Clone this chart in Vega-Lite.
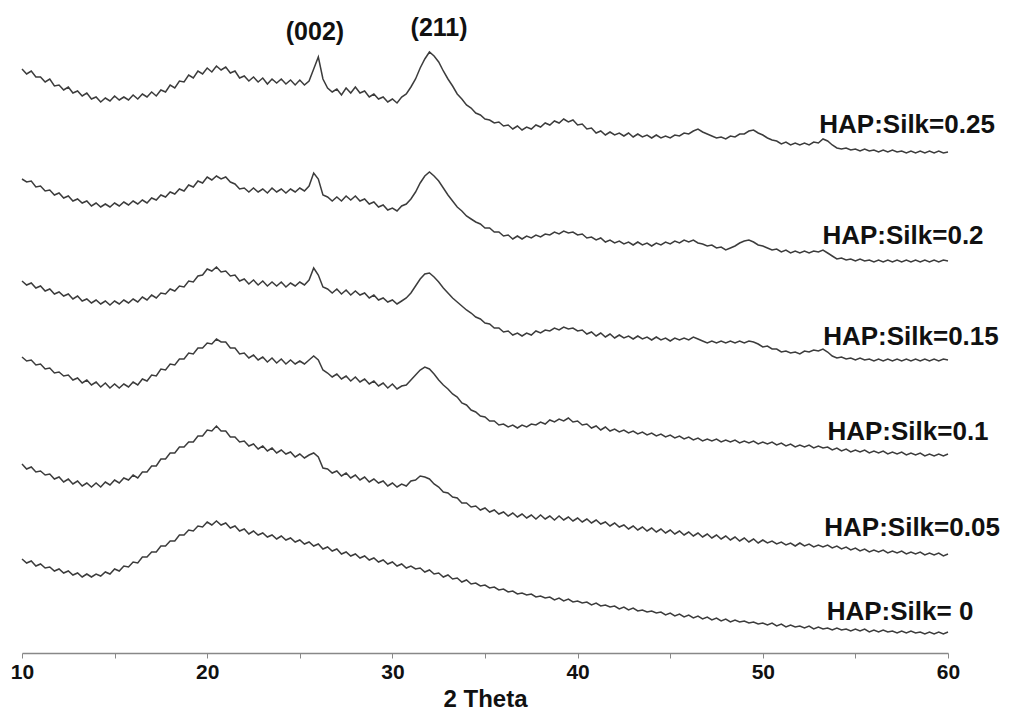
{
"$schema": "https://vega.github.io/schema/vega-lite/v6.json",
"width": 926, "height": 653,
"autosize": {"type": "none"},
"padding": {"left": 22, "top": 0, "right": 63, "bottom": 62},
"background": "white",
"config": {"view": {"stroke": null}, "font": "Liberation Sans"},
"datasets": {
"a": [{"x":10,"y":584},{"x":10.25,"y":579},{"x":10.5,"y":582},{"x":10.75,"y":576},{"x":11,"y":576},{"x":11.25,"y":571},{"x":11.5,"y":574},{"x":11.75,"y":567},{"x":12,"y":568},{"x":12.25,"y":563},{"x":12.5,"y":566},{"x":12.75,"y":560},{"x":13,"y":562},{"x":13.25,"y":557},{"x":13.5,"y":560},{"x":13.75,"y":554},{"x":14,"y":556},{"x":14.25,"y":551},{"x":14.5,"y":555},{"x":14.75,"y":552},{"x":15,"y":557},{"x":15.25,"y":553},{"x":15.5,"y":556},{"x":15.75,"y":553},{"x":16,"y":558},{"x":16.25,"y":554},{"x":16.5,"y":559},{"x":16.75,"y":556},{"x":17,"y":561},{"x":17.25,"y":557},{"x":17.5,"y":563},{"x":17.75,"y":561},{"x":18,"y":568},{"x":18.25,"y":565},{"x":18.5,"y":572},{"x":18.75,"y":571},{"x":19,"y":578},{"x":19.25,"y":575},{"x":19.5,"y":582},{"x":19.75,"y":579},{"x":20,"y":585},{"x":20.25,"y":581},{"x":20.5,"y":587},{"x":20.75,"y":583},{"x":21,"y":586},{"x":21.25,"y":580},{"x":21.5,"y":582},{"x":21.75,"y":575},{"x":22,"y":577},{"x":22.25,"y":572},{"x":22.5,"y":576},{"x":22.75,"y":571},{"x":23,"y":575},{"x":23.25,"y":569},{"x":23.5,"y":574},{"x":23.75,"y":570},{"x":24,"y":574},{"x":24.25,"y":569},{"x":24.5,"y":573},{"x":24.75,"y":568},{"x":25,"y":573},{"x":25.25,"y":568},{"x":25.5,"y":572},{"x":25.75,"y":584},{"x":26,"y":596},{"x":26.25,"y":574},{"x":26.5,"y":565},{"x":26.75,"y":561},{"x":27,"y":564},{"x":27.25,"y":558},{"x":27.5,"y":565},{"x":27.75,"y":560},{"x":28,"y":566},{"x":28.25,"y":560},{"x":28.5,"y":562},{"x":28.75,"y":556},{"x":29,"y":559},{"x":29.25,"y":554},{"x":29.5,"y":556},{"x":29.75,"y":551},{"x":30,"y":554},{"x":30.25,"y":550},{"x":30.5,"y":556},{"x":30.75,"y":559},{"x":31,"y":566},{"x":31.25,"y":574},{"x":31.5,"y":585},{"x":31.75,"y":594},{"x":32,"y":601},{"x":32.25,"y":597},{"x":32.5,"y":591},{"x":32.75,"y":582},{"x":33,"y":574},{"x":33.25,"y":567},{"x":33.5,"y":559},{"x":33.75,"y":554},{"x":34,"y":548},{"x":34.25,"y":545},{"x":34.5,"y":540},{"x":34.75,"y":538},{"x":35,"y":534},{"x":35.25,"y":533},{"x":35.5,"y":530},{"x":35.75,"y":531},{"x":36,"y":527},{"x":36.25,"y":528},{"x":36.5,"y":524},{"x":36.75,"y":527},{"x":37,"y":523},{"x":37.25,"y":526},{"x":37.5,"y":524},{"x":37.75,"y":528},{"x":38,"y":526},{"x":38.25,"y":530},{"x":38.5,"y":528},{"x":38.75,"y":532},{"x":39,"y":530},{"x":39.25,"y":534},{"x":39.5,"y":531},{"x":39.75,"y":533},{"x":40,"y":528},{"x":40.25,"y":529},{"x":40.5,"y":524},{"x":40.75,"y":525},{"x":41,"y":520},{"x":41.25,"y":522},{"x":41.5,"y":518},{"x":41.75,"y":521},{"x":42,"y":518},{"x":42.25,"y":520},{"x":42.5,"y":517},{"x":42.75,"y":520},{"x":43,"y":516},{"x":43.25,"y":519},{"x":43.5,"y":516},{"x":43.75,"y":518},{"x":44,"y":515},{"x":44.25,"y":518},{"x":44.5,"y":515},{"x":44.75,"y":517},{"x":45,"y":515},{"x":45.25,"y":518},{"x":45.5,"y":517},{"x":45.75,"y":520},{"x":46,"y":519},{"x":46.25,"y":522},{"x":46.5,"y":524},{"x":46.75,"y":521},{"x":47,"y":519},{"x":47.25,"y":517},{"x":47.5,"y":515},{"x":47.75,"y":516},{"x":48,"y":514},{"x":48.25,"y":517},{"x":48.5,"y":516},{"x":48.75,"y":519},{"x":49,"y":519},{"x":49.25,"y":522},{"x":49.5,"y":523},{"x":49.75,"y":520},{"x":50,"y":518},{"x":50.25,"y":515},{"x":50.5,"y":513},{"x":50.75,"y":512},{"x":51,"y":509},{"x":51.25,"y":511},{"x":51.5,"y":508},{"x":51.75,"y":510},{"x":52,"y":508},{"x":52.25,"y":510},{"x":52.5,"y":508},{"x":52.75,"y":511},{"x":53,"y":510},{"x":53.25,"y":514},{"x":53.5,"y":512},{"x":53.75,"y":508},{"x":54,"y":505},{"x":54.25,"y":504},{"x":54.5,"y":505},{"x":54.75,"y":503},{"x":55,"y":504},{"x":55.25,"y":502},{"x":55.5,"y":504},{"x":55.75,"y":502},{"x":56,"y":503},{"x":56.25,"y":501},{"x":56.5,"y":503},{"x":56.75,"y":501},{"x":57,"y":503},{"x":57.25,"y":501},{"x":57.5,"y":502},{"x":57.75,"y":500},{"x":58,"y":502},{"x":58.25,"y":500},{"x":58.5,"y":502},{"x":58.75,"y":500},{"x":59,"y":502},{"x":59.25,"y":500},{"x":59.5,"y":502},{"x":59.75,"y":500},{"x":60,"y":501}],
"b": [{"x":10,"y":474},{"x":10.25,"y":471},{"x":10.5,"y":472},{"x":10.75,"y":466},{"x":11,"y":467},{"x":11.25,"y":462},{"x":11.5,"y":463},{"x":11.75,"y":458},{"x":12,"y":460},{"x":12.25,"y":455},{"x":12.5,"y":457},{"x":12.75,"y":452},{"x":13,"y":454},{"x":13.25,"y":450},{"x":13.5,"y":452},{"x":13.75,"y":447},{"x":14,"y":450},{"x":14.25,"y":446},{"x":14.5,"y":449},{"x":14.75,"y":446},{"x":15,"y":450},{"x":15.25,"y":447},{"x":15.5,"y":451},{"x":15.75,"y":448},{"x":16,"y":452},{"x":16.25,"y":449},{"x":16.5,"y":453},{"x":16.75,"y":450},{"x":17,"y":455},{"x":17.25,"y":453},{"x":17.5,"y":458},{"x":17.75,"y":456},{"x":18,"y":461},{"x":18.25,"y":459},{"x":18.5,"y":464},{"x":18.75,"y":462},{"x":19,"y":468},{"x":19.25,"y":466},{"x":19.5,"y":472},{"x":19.75,"y":470},{"x":20,"y":476},{"x":20.25,"y":473},{"x":20.5,"y":477},{"x":20.75,"y":474},{"x":21,"y":476},{"x":21.25,"y":471},{"x":21.5,"y":469},{"x":21.75,"y":464},{"x":22,"y":465},{"x":22.25,"y":461},{"x":22.5,"y":465},{"x":22.75,"y":461},{"x":23,"y":464},{"x":23.25,"y":460},{"x":23.5,"y":465},{"x":23.75,"y":461},{"x":24,"y":464},{"x":24.25,"y":460},{"x":24.5,"y":464},{"x":24.75,"y":461},{"x":25,"y":465},{"x":25.25,"y":462},{"x":25.5,"y":467},{"x":25.75,"y":480},{"x":26,"y":474},{"x":26.25,"y":458},{"x":26.5,"y":456},{"x":26.75,"y":452},{"x":27,"y":456},{"x":27.25,"y":452},{"x":27.5,"y":457},{"x":27.75,"y":453},{"x":28,"y":457},{"x":28.25,"y":452},{"x":28.5,"y":454},{"x":28.75,"y":449},{"x":29,"y":451},{"x":29.25,"y":446},{"x":29.5,"y":448},{"x":29.75,"y":443},{"x":30,"y":445},{"x":30.25,"y":442},{"x":30.5,"y":447},{"x":30.75,"y":449},{"x":31,"y":454},{"x":31.25,"y":461},{"x":31.5,"y":470},{"x":31.75,"y":477},{"x":32,"y":481},{"x":32.25,"y":477},{"x":32.5,"y":472},{"x":32.75,"y":465},{"x":33,"y":458},{"x":33.25,"y":452},{"x":33.5,"y":446},{"x":33.75,"y":442},{"x":34,"y":437},{"x":34.25,"y":434},{"x":34.5,"y":431},{"x":34.75,"y":429},{"x":35,"y":425},{"x":35.25,"y":425},{"x":35.5,"y":421},{"x":35.75,"y":421},{"x":36,"y":417},{"x":36.25,"y":418},{"x":36.5,"y":414},{"x":36.75,"y":417},{"x":37,"y":414},{"x":37.25,"y":417},{"x":37.5,"y":415},{"x":37.75,"y":418},{"x":38,"y":416},{"x":38.25,"y":419},{"x":38.5,"y":418},{"x":38.75,"y":421},{"x":39,"y":419},{"x":39.25,"y":422},{"x":39.5,"y":420},{"x":39.75,"y":421},{"x":40,"y":418},{"x":40.25,"y":419},{"x":40.5,"y":415},{"x":40.75,"y":416},{"x":41,"y":413},{"x":41.25,"y":415},{"x":41.5,"y":411},{"x":41.75,"y":413},{"x":42,"y":410},{"x":42.25,"y":412},{"x":42.5,"y":409},{"x":42.75,"y":411},{"x":43,"y":408},{"x":43.25,"y":411},{"x":43.5,"y":408},{"x":43.75,"y":410},{"x":44,"y":407},{"x":44.25,"y":410},{"x":44.5,"y":408},{"x":44.75,"y":411},{"x":45,"y":409},{"x":45.25,"y":412},{"x":45.5,"y":410},{"x":45.75,"y":413},{"x":46,"y":411},{"x":46.25,"y":413},{"x":46.5,"y":410},{"x":46.75,"y":409},{"x":47,"y":407},{"x":47.25,"y":408},{"x":47.5,"y":405},{"x":47.75,"y":406},{"x":48,"y":403},{"x":48.25,"y":405},{"x":48.5,"y":407},{"x":48.75,"y":410},{"x":49,"y":412},{"x":49.25,"y":413},{"x":49.5,"y":411},{"x":49.75,"y":408},{"x":50,"y":407},{"x":50.25,"y":405},{"x":50.5,"y":403},{"x":50.75,"y":404},{"x":51,"y":401},{"x":51.25,"y":403},{"x":51.5,"y":400},{"x":51.75,"y":402},{"x":52,"y":400},{"x":52.25,"y":402},{"x":52.5,"y":400},{"x":52.75,"y":402},{"x":53,"y":401},{"x":53.25,"y":403},{"x":53.5,"y":400},{"x":53.75,"y":397},{"x":54,"y":394},{"x":54.25,"y":395},{"x":54.5,"y":393},{"x":54.75,"y":394},{"x":55,"y":392},{"x":55.25,"y":394},{"x":55.5,"y":392},{"x":55.75,"y":393},{"x":56,"y":391},{"x":56.25,"y":393},{"x":56.5,"y":391},{"x":56.75,"y":393},{"x":57,"y":391},{"x":57.25,"y":393},{"x":57.5,"y":391},{"x":57.75,"y":393},{"x":58,"y":391},{"x":58.25,"y":393},{"x":58.5,"y":391},{"x":58.75,"y":393},{"x":59,"y":391},{"x":59.25,"y":393},{"x":59.5,"y":391},{"x":59.75,"y":393},{"x":60,"y":392}],
"c": [{"x":10,"y":372},{"x":10.25,"y":368},{"x":10.5,"y":370},{"x":10.75,"y":365},{"x":11,"y":367},{"x":11.25,"y":362},{"x":11.5,"y":364},{"x":11.75,"y":359},{"x":12,"y":361},{"x":12.25,"y":357},{"x":12.5,"y":359},{"x":12.75,"y":354},{"x":13,"y":357},{"x":13.25,"y":352},{"x":13.5,"y":354},{"x":13.75,"y":350},{"x":14,"y":353},{"x":14.25,"y":349},{"x":14.5,"y":352},{"x":14.75,"y":348},{"x":15,"y":352},{"x":15.25,"y":349},{"x":15.5,"y":353},{"x":15.75,"y":350},{"x":16,"y":354},{"x":16.25,"y":351},{"x":16.5,"y":356},{"x":16.75,"y":353},{"x":17,"y":358},{"x":17.25,"y":355},{"x":17.5,"y":360},{"x":17.75,"y":359},{"x":18,"y":364},{"x":18.25,"y":362},{"x":18.5,"y":367},{"x":18.75,"y":366},{"x":19,"y":372},{"x":19.25,"y":371},{"x":19.5,"y":377},{"x":19.75,"y":378},{"x":20,"y":384},{"x":20.25,"y":382},{"x":20.5,"y":386},{"x":20.75,"y":381},{"x":21,"y":382},{"x":21.25,"y":377},{"x":21.5,"y":378},{"x":21.75,"y":372},{"x":22,"y":374},{"x":22.25,"y":369},{"x":22.5,"y":373},{"x":22.75,"y":368},{"x":23,"y":372},{"x":23.25,"y":367},{"x":23.5,"y":371},{"x":23.75,"y":367},{"x":24,"y":371},{"x":24.25,"y":366},{"x":24.5,"y":370},{"x":24.75,"y":367},{"x":25,"y":371},{"x":25.25,"y":368},{"x":25.5,"y":373},{"x":25.75,"y":385},{"x":26,"y":378},{"x":26.25,"y":366},{"x":26.5,"y":364},{"x":26.75,"y":360},{"x":27,"y":364},{"x":27.25,"y":359},{"x":27.5,"y":363},{"x":27.75,"y":358},{"x":28,"y":362},{"x":28.25,"y":358},{"x":28.5,"y":360},{"x":28.75,"y":355},{"x":29,"y":358},{"x":29.25,"y":353},{"x":29.5,"y":355},{"x":29.75,"y":351},{"x":30,"y":353},{"x":30.25,"y":349},{"x":30.5,"y":352},{"x":30.75,"y":355},{"x":31,"y":360},{"x":31.25,"y":367},{"x":31.5,"y":374},{"x":31.75,"y":379},{"x":32,"y":380},{"x":32.25,"y":376},{"x":32.5,"y":371},{"x":32.75,"y":365},{"x":33,"y":360},{"x":33.25,"y":355},{"x":33.5,"y":351},{"x":33.75,"y":347},{"x":34,"y":343},{"x":34.25,"y":340},{"x":34.5,"y":336},{"x":34.75,"y":334},{"x":35,"y":330},{"x":35.25,"y":329},{"x":35.5,"y":325},{"x":35.75,"y":325},{"x":36,"y":321},{"x":36.25,"y":322},{"x":36.5,"y":318},{"x":36.75,"y":320},{"x":37,"y":317},{"x":37.25,"y":320},{"x":37.5,"y":318},{"x":37.75,"y":322},{"x":38,"y":320},{"x":38.25,"y":323},{"x":38.5,"y":322},{"x":38.75,"y":325},{"x":39,"y":323},{"x":39.25,"y":326},{"x":39.5,"y":324},{"x":39.75,"y":325},{"x":40,"y":322},{"x":40.25,"y":323},{"x":40.5,"y":319},{"x":40.75,"y":321},{"x":41,"y":317},{"x":41.25,"y":320},{"x":41.5,"y":316},{"x":41.75,"y":319},{"x":42,"y":315},{"x":42.25,"y":318},{"x":42.5,"y":315},{"x":42.75,"y":317},{"x":43,"y":314},{"x":43.25,"y":317},{"x":43.5,"y":314},{"x":43.75,"y":316},{"x":44,"y":313},{"x":44.25,"y":316},{"x":44.5,"y":313},{"x":44.75,"y":315},{"x":45,"y":312},{"x":45.25,"y":315},{"x":45.5,"y":313},{"x":45.75,"y":315},{"x":46,"y":313},{"x":46.25,"y":316},{"x":46.5,"y":314},{"x":46.75,"y":312},{"x":47,"y":310},{"x":47.25,"y":312},{"x":47.5,"y":310},{"x":47.75,"y":312},{"x":48,"y":310},{"x":48.25,"y":312},{"x":48.5,"y":310},{"x":48.75,"y":312},{"x":49,"y":310},{"x":49.25,"y":312},{"x":49.5,"y":311},{"x":49.75,"y":309},{"x":50,"y":306},{"x":50.25,"y":307},{"x":50.5,"y":304},{"x":50.75,"y":304},{"x":51,"y":301},{"x":51.25,"y":302},{"x":51.5,"y":300},{"x":51.75,"y":301},{"x":52,"y":299},{"x":52.25,"y":302},{"x":52.5,"y":301},{"x":52.75,"y":303},{"x":53,"y":302},{"x":53.25,"y":304},{"x":53.5,"y":301},{"x":53.75,"y":297},{"x":54,"y":295},{"x":54.25,"y":296},{"x":54.5,"y":294},{"x":54.75,"y":295},{"x":55,"y":293},{"x":55.25,"y":295},{"x":55.5,"y":293},{"x":55.75,"y":294},{"x":56,"y":292},{"x":56.25,"y":294},{"x":56.5,"y":292},{"x":56.75,"y":294},{"x":57,"y":292},{"x":57.25,"y":294},{"x":57.5,"y":292},{"x":57.75,"y":294},{"x":58,"y":292},{"x":58.25,"y":294},{"x":58.5,"y":292},{"x":58.75,"y":294},{"x":59,"y":292},{"x":59.25,"y":294},{"x":59.5,"y":292},{"x":59.75,"y":294},{"x":60,"y":293}],
"d": [{"x":10,"y":296},{"x":10.25,"y":292},{"x":10.5,"y":293},{"x":10.75,"y":288},{"x":11,"y":289},{"x":11.25,"y":284},{"x":11.5,"y":285},{"x":11.75,"y":280},{"x":12,"y":281},{"x":12.25,"y":277},{"x":12.5,"y":278},{"x":12.75,"y":273},{"x":13,"y":275},{"x":13.25,"y":270},{"x":13.5,"y":273},{"x":13.75,"y":268},{"x":14,"y":271},{"x":14.25,"y":266},{"x":14.5,"y":270},{"x":14.75,"y":265},{"x":15,"y":269},{"x":15.25,"y":265},{"x":15.5,"y":269},{"x":15.75,"y":266},{"x":16,"y":271},{"x":16.25,"y":268},{"x":16.5,"y":274},{"x":16.75,"y":272},{"x":17,"y":278},{"x":17.25,"y":277},{"x":17.5,"y":284},{"x":17.75,"y":283},{"x":18,"y":289},{"x":18.25,"y":288},{"x":18.5,"y":294},{"x":18.75,"y":294},{"x":19,"y":300},{"x":19.25,"y":299},{"x":19.5,"y":305},{"x":19.75,"y":305},{"x":20,"y":310},{"x":20.25,"y":309},{"x":20.5,"y":314},{"x":20.75,"y":311},{"x":21,"y":311},{"x":21.25,"y":305},{"x":21.5,"y":305},{"x":21.75,"y":299},{"x":22,"y":300},{"x":22.25,"y":295},{"x":22.5,"y":298},{"x":22.75,"y":293},{"x":23,"y":296},{"x":23.25,"y":291},{"x":23.5,"y":295},{"x":23.75,"y":290},{"x":24,"y":294},{"x":24.25,"y":289},{"x":24.5,"y":293},{"x":24.75,"y":289},{"x":25,"y":292},{"x":25.25,"y":289},{"x":25.5,"y":293},{"x":25.75,"y":297},{"x":26,"y":293},{"x":26.25,"y":283},{"x":26.5,"y":280},{"x":26.75,"y":276},{"x":27,"y":279},{"x":27.25,"y":274},{"x":27.5,"y":277},{"x":27.75,"y":272},{"x":28,"y":276},{"x":28.25,"y":271},{"x":28.5,"y":274},{"x":28.75,"y":269},{"x":29,"y":272},{"x":29.25,"y":267},{"x":29.5,"y":270},{"x":29.75,"y":265},{"x":30,"y":269},{"x":30.25,"y":264},{"x":30.5,"y":267},{"x":30.75,"y":268},{"x":31,"y":273},{"x":31.25,"y":278},{"x":31.5,"y":283},{"x":31.75,"y":286},{"x":32,"y":284},{"x":32.25,"y":279},{"x":32.5,"y":273},{"x":32.75,"y":268},{"x":33,"y":264},{"x":33.25,"y":259},{"x":33.5,"y":256},{"x":33.75,"y":250},{"x":34,"y":248},{"x":34.25,"y":243},{"x":34.5,"y":241},{"x":34.75,"y":237},{"x":35,"y":236},{"x":35.25,"y":232},{"x":35.5,"y":232},{"x":35.75,"y":228},{"x":36,"y":229},{"x":36.25,"y":226},{"x":36.5,"y":228},{"x":36.75,"y":225},{"x":37,"y":228},{"x":37.25,"y":226},{"x":37.5,"y":229},{"x":37.75,"y":228},{"x":38,"y":231},{"x":38.25,"y":229},{"x":38.5,"y":233},{"x":38.75,"y":231},{"x":39,"y":234},{"x":39.25,"y":232},{"x":39.5,"y":235},{"x":39.75,"y":231},{"x":40,"y":232},{"x":40.25,"y":228},{"x":40.5,"y":229},{"x":40.75,"y":225},{"x":41,"y":227},{"x":41.25,"y":223},{"x":41.5,"y":226},{"x":41.75,"y":222},{"x":42,"y":224},{"x":42.25,"y":221},{"x":42.5,"y":223},{"x":42.75,"y":220},{"x":43,"y":222},{"x":43.25,"y":219},{"x":43.5,"y":221},{"x":43.75,"y":218},{"x":44,"y":220},{"x":44.25,"y":217},{"x":44.5,"y":219},{"x":44.75,"y":216},{"x":45,"y":218},{"x":45.25,"y":215},{"x":45.5,"y":217},{"x":45.75,"y":214},{"x":46,"y":216},{"x":46.25,"y":213},{"x":46.5,"y":215},{"x":46.75,"y":212},{"x":47,"y":214},{"x":47.25,"y":212},{"x":47.5,"y":214},{"x":47.75,"y":211},{"x":48,"y":213},{"x":48.25,"y":211},{"x":48.5,"y":213},{"x":48.75,"y":210},{"x":49,"y":212},{"x":49.25,"y":210},{"x":49.5,"y":212},{"x":49.75,"y":209},{"x":50,"y":211},{"x":50.25,"y":209},{"x":50.5,"y":211},{"x":50.75,"y":208},{"x":51,"y":210},{"x":51.25,"y":207},{"x":51.5,"y":209},{"x":51.75,"y":206},{"x":52,"y":208},{"x":52.25,"y":206},{"x":52.5,"y":208},{"x":52.75,"y":205},{"x":53,"y":207},{"x":53.25,"y":205},{"x":53.5,"y":206},{"x":53.75,"y":203},{"x":54,"y":205},{"x":54.25,"y":202},{"x":54.5,"y":204},{"x":54.75,"y":201},{"x":55,"y":203},{"x":55.25,"y":201},{"x":55.5,"y":203},{"x":55.75,"y":200},{"x":56,"y":202},{"x":56.25,"y":200},{"x":56.5,"y":202},{"x":56.75,"y":199},{"x":57,"y":201},{"x":57.25,"y":199},{"x":57.5,"y":201},{"x":57.75,"y":198},{"x":58,"y":200},{"x":58.25,"y":198},{"x":58.5,"y":200},{"x":58.75,"y":197},{"x":59,"y":199},{"x":59.25,"y":197},{"x":59.5,"y":199},{"x":59.75,"y":197},{"x":60,"y":199}],
"e": [{"x":10,"y":189},{"x":10.25,"y":184},{"x":10.5,"y":186},{"x":10.75,"y":181},{"x":11,"y":182},{"x":11.25,"y":178},{"x":11.5,"y":179},{"x":11.75,"y":174},{"x":12,"y":176},{"x":12.25,"y":171},{"x":12.5,"y":174},{"x":12.75,"y":169},{"x":13,"y":172},{"x":13.25,"y":167},{"x":13.5,"y":170},{"x":13.75,"y":166},{"x":14,"y":170},{"x":14.25,"y":166},{"x":14.5,"y":171},{"x":14.75,"y":168},{"x":15,"y":173},{"x":15.25,"y":170},{"x":15.5,"y":175},{"x":15.75,"y":173},{"x":16,"y":178},{"x":16.25,"y":175},{"x":16.5,"y":181},{"x":16.75,"y":181},{"x":17,"y":187},{"x":17.25,"y":187},{"x":17.5,"y":194},{"x":17.75,"y":194},{"x":18,"y":200},{"x":18.25,"y":200},{"x":18.5,"y":206},{"x":18.75,"y":206},{"x":19,"y":211},{"x":19.25,"y":211},{"x":19.5,"y":217},{"x":19.75,"y":217},{"x":20,"y":223},{"x":20.25,"y":222},{"x":20.5,"y":227},{"x":20.75,"y":222},{"x":21,"y":222},{"x":21.25,"y":216},{"x":21.5,"y":216},{"x":21.75,"y":211},{"x":22,"y":212},{"x":22.25,"y":207},{"x":22.5,"y":209},{"x":22.75,"y":204},{"x":23,"y":207},{"x":23.25,"y":202},{"x":23.5,"y":205},{"x":23.75,"y":200},{"x":24,"y":203},{"x":24.25,"y":199},{"x":24.5,"y":201},{"x":24.75,"y":196},{"x":25,"y":199},{"x":25.25,"y":195},{"x":25.5,"y":198},{"x":25.75,"y":200},{"x":26,"y":196},{"x":26.25,"y":185},{"x":26.5,"y":184},{"x":26.75,"y":180},{"x":27,"y":182},{"x":27.25,"y":177},{"x":27.5,"y":180},{"x":27.75,"y":175},{"x":28,"y":178},{"x":28.25,"y":173},{"x":28.5,"y":176},{"x":28.75,"y":171},{"x":29,"y":174},{"x":29.25,"y":170},{"x":29.5,"y":172},{"x":29.75,"y":167},{"x":30,"y":170},{"x":30.25,"y":166},{"x":30.5,"y":169},{"x":30.75,"y":167},{"x":31,"y":172},{"x":31.25,"y":173},{"x":31.5,"y":177},{"x":31.75,"y":176},{"x":32,"y":174},{"x":32.25,"y":169},{"x":32.5,"y":166},{"x":32.75,"y":161},{"x":33,"y":160},{"x":33.25,"y":156},{"x":33.5,"y":155},{"x":33.75,"y":150},{"x":34,"y":150},{"x":34.25,"y":146},{"x":34.5,"y":147},{"x":34.75,"y":143},{"x":35,"y":145},{"x":35.25,"y":141},{"x":35.5,"y":143},{"x":35.75,"y":139},{"x":36,"y":141},{"x":36.25,"y":137},{"x":36.5,"y":140},{"x":36.75,"y":136},{"x":37,"y":139},{"x":37.25,"y":135},{"x":37.5,"y":138},{"x":37.75,"y":134},{"x":38,"y":138},{"x":38.25,"y":134},{"x":38.5,"y":137},{"x":38.75,"y":133},{"x":39,"y":137},{"x":39.25,"y":133},{"x":39.5,"y":136},{"x":39.75,"y":132},{"x":40,"y":135},{"x":40.25,"y":131},{"x":40.5,"y":134},{"x":40.75,"y":130},{"x":41,"y":133},{"x":41.25,"y":129},{"x":41.5,"y":131},{"x":41.75,"y":127},{"x":42,"y":130},{"x":42.25,"y":126},{"x":42.5,"y":128},{"x":42.75,"y":124},{"x":43,"y":127},{"x":43.25,"y":123},{"x":43.5,"y":126},{"x":43.75,"y":122},{"x":44,"y":125},{"x":44.25,"y":121},{"x":44.5,"y":124},{"x":44.75,"y":120},{"x":45,"y":123},{"x":45.25,"y":119},{"x":45.5,"y":122},{"x":45.75,"y":118},{"x":46,"y":121},{"x":46.25,"y":117},{"x":46.5,"y":120},{"x":46.75,"y":116},{"x":47,"y":119},{"x":47.25,"y":115},{"x":47.5,"y":118},{"x":47.75,"y":114},{"x":48,"y":117},{"x":48.25,"y":113},{"x":48.5,"y":116},{"x":48.75,"y":112},{"x":49,"y":115},{"x":49.25,"y":111},{"x":49.5,"y":114},{"x":49.75,"y":110},{"x":50,"y":113},{"x":50.25,"y":110},{"x":50.5,"y":112},{"x":50.75,"y":109},{"x":51,"y":111},{"x":51.25,"y":108},{"x":51.5,"y":110},{"x":51.75,"y":107},{"x":52,"y":110},{"x":52.25,"y":107},{"x":52.5,"y":109},{"x":52.75,"y":106},{"x":53,"y":108},{"x":53.25,"y":106},{"x":53.5,"y":108},{"x":53.75,"y":105},{"x":54,"y":107},{"x":54.25,"y":104},{"x":54.5,"y":106},{"x":54.75,"y":103},{"x":55,"y":105},{"x":55.25,"y":102},{"x":55.5,"y":104},{"x":55.75,"y":101},{"x":56,"y":103},{"x":56.25,"y":101},{"x":56.5,"y":103},{"x":56.75,"y":100},{"x":57,"y":102},{"x":57.25,"y":100},{"x":57.5,"y":102},{"x":57.75,"y":99},{"x":58,"y":101},{"x":58.25,"y":99},{"x":58.5,"y":101},{"x":58.75,"y":98},{"x":59,"y":100},{"x":59.25,"y":98},{"x":59.5,"y":100},{"x":59.75,"y":97},{"x":60,"y":99}],
"f": [{"x":10,"y":94},{"x":10.25,"y":90},{"x":10.5,"y":92},{"x":10.75,"y":87},{"x":11,"y":89},{"x":11.25,"y":85},{"x":11.5,"y":86},{"x":11.75,"y":82},{"x":12,"y":84},{"x":12.25,"y":80},{"x":12.5,"y":82},{"x":12.75,"y":78},{"x":13,"y":80},{"x":13.25,"y":76},{"x":13.5,"y":79},{"x":13.75,"y":76},{"x":14,"y":79},{"x":14.25,"y":77},{"x":14.5,"y":81},{"x":14.75,"y":79},{"x":15,"y":84},{"x":15.25,"y":82},{"x":15.5,"y":87},{"x":15.75,"y":86},{"x":16,"y":91},{"x":16.25,"y":90},{"x":16.5,"y":96},{"x":16.75,"y":96},{"x":17,"y":101},{"x":17.25,"y":101},{"x":17.5,"y":107},{"x":17.75,"y":107},{"x":18,"y":112},{"x":18.25,"y":112},{"x":18.5,"y":118},{"x":18.75,"y":118},{"x":19,"y":123},{"x":19.25,"y":122},{"x":19.5,"y":127},{"x":19.75,"y":126},{"x":20,"y":131},{"x":20.25,"y":128},{"x":20.5,"y":132},{"x":20.75,"y":128},{"x":21,"y":130},{"x":21.25,"y":125},{"x":21.5,"y":127},{"x":21.75,"y":122},{"x":22,"y":124},{"x":22.25,"y":119},{"x":22.5,"y":122},{"x":22.75,"y":118},{"x":23,"y":120},{"x":23.25,"y":116},{"x":23.5,"y":118},{"x":23.75,"y":114},{"x":24,"y":117},{"x":24.25,"y":113},{"x":24.5,"y":115},{"x":24.75,"y":111},{"x":25,"y":113},{"x":25.25,"y":109},{"x":25.5,"y":111},{"x":25.75,"y":107},{"x":26,"y":109},{"x":26.25,"y":104},{"x":26.5,"y":106},{"x":26.75,"y":102},{"x":27,"y":104},{"x":27.25,"y":99},{"x":27.5,"y":101},{"x":27.75,"y":97},{"x":28,"y":99},{"x":28.25,"y":95},{"x":28.5,"y":97},{"x":28.75,"y":93},{"x":29,"y":95},{"x":29.25,"y":91},{"x":29.5,"y":93},{"x":29.75,"y":89},{"x":30,"y":91},{"x":30.25,"y":87},{"x":30.5,"y":89},{"x":30.75,"y":85},{"x":31,"y":87},{"x":31.25,"y":84},{"x":31.5,"y":85},{"x":31.75,"y":81},{"x":32,"y":83},{"x":32.25,"y":79},{"x":32.5,"y":80},{"x":32.75,"y":76},{"x":33,"y":78},{"x":33.25,"y":74},{"x":33.5,"y":75},{"x":33.75,"y":71},{"x":34,"y":73},{"x":34.25,"y":69},{"x":34.5,"y":70},{"x":34.75,"y":67},{"x":35,"y":68},{"x":35.25,"y":65},{"x":35.5,"y":66},{"x":35.75,"y":63},{"x":36,"y":64},{"x":36.25,"y":61},{"x":36.5,"y":62},{"x":36.75,"y":59},{"x":37,"y":60},{"x":37.25,"y":58},{"x":37.5,"y":59},{"x":37.75,"y":56},{"x":38,"y":57},{"x":38.25,"y":55},{"x":38.5,"y":56},{"x":38.75,"y":53},{"x":39,"y":55},{"x":39.25,"y":52},{"x":39.5,"y":54},{"x":39.75,"y":51},{"x":40,"y":52},{"x":40.25,"y":50},{"x":40.5,"y":51},{"x":40.75,"y":48},{"x":41,"y":50},{"x":41.25,"y":47},{"x":41.5,"y":48},{"x":41.75,"y":46},{"x":42,"y":47},{"x":42.25,"y":44},{"x":42.5,"y":46},{"x":42.75,"y":43},{"x":43,"y":45},{"x":43.25,"y":42},{"x":43.5,"y":43},{"x":43.75,"y":41},{"x":44,"y":42},{"x":44.25,"y":40},{"x":44.5,"y":41},{"x":44.75,"y":38},{"x":45,"y":40},{"x":45.25,"y":37},{"x":45.5,"y":39},{"x":45.75,"y":36},{"x":46,"y":38},{"x":46.25,"y":35},{"x":46.5,"y":37},{"x":46.75,"y":34},{"x":47,"y":36},{"x":47.25,"y":33},{"x":47.5,"y":35},{"x":47.75,"y":32},{"x":48,"y":34},{"x":48.25,"y":31},{"x":48.5,"y":33},{"x":48.75,"y":31},{"x":49,"y":32},{"x":49.25,"y":30},{"x":49.5,"y":31},{"x":49.75,"y":29},{"x":50,"y":30},{"x":50.25,"y":28},{"x":50.5,"y":30},{"x":50.75,"y":27},{"x":51,"y":29},{"x":51.25,"y":26},{"x":51.5,"y":28},{"x":51.75,"y":26},{"x":52,"y":27},{"x":52.25,"y":25},{"x":52.5,"y":27},{"x":52.75,"y":24},{"x":53,"y":26},{"x":53.25,"y":24},{"x":53.5,"y":25},{"x":53.75,"y":23},{"x":54,"y":25},{"x":54.25,"y":23},{"x":54.5,"y":24},{"x":54.75,"y":22},{"x":55,"y":24},{"x":55.25,"y":22},{"x":55.5,"y":24},{"x":55.75,"y":21},{"x":56,"y":23},{"x":56.25,"y":21},{"x":56.5,"y":23},{"x":56.75,"y":21},{"x":57,"y":22},{"x":57.25,"y":20},{"x":57.5,"y":22},{"x":57.75,"y":20},{"x":58,"y":22},{"x":58.25,"y":20},{"x":58.5,"y":21},{"x":58.75,"y":19},{"x":59,"y":21},{"x":59.25,"y":19},{"x":59.5,"y":21},{"x":59.75,"y":19},{"x":60,"y":21}],
"curvelabels": [{"x":57.79,"y":528,"t":"HAP:Silk=0.25"},{"x":57.57,"y":417,"t":"HAP:Silk=0.2"},{"x":58.0,"y":316,"t":"HAP:Silk=0.15"},{"x":57.84,"y":221,"t":"HAP:Silk=0.1"},{"x":58.06,"y":125,"t":"HAP:Silk=0.05"},{"x":57.41,"y":41,"t":"HAP:Silk= 0"}],
"peaklabels": [{"x":25.82,"y":621,"t":"(002)"},{"x":32.52,"y":625,"t":"(211)"}]
},
"encoding": {
"x": {"field": "x", "type": "quantitative", "scale": {"domain": [10, 60], "nice": false, "zero": false},
 "axis": {"values": [10,15,20,25,30,35,40,45,50,55,60], "labelExpr": "datum.value % 10 === 0 ? datum.label : ''", "labelFlush": false, "labelOverlap": false, "title": "2 Theta", "grid": false, "domainColor": "#888888", "domainWidth": 1.5, "tickColor": "#888888", "tickSize": 5, "labelFont": "Liberation Sans", "labelFontWeight": "bold", "labelFontSize": 21, "labelColor": "#111111", "labelPadding": 3, "titleFont": "Liberation Sans", "titleFontSize": 24, "titleFontWeight": "bold", "titleColor": "#111111", "titlePadding": 5}},
"y": {"field": "y", "type": "quantitative", "scale": {"domain": [0, 653]}, "axis": null}
},
"layer": [
{"data": {"name": "a"}, "mark": {"type": "line", "color": "#3c3c3c", "strokeWidth": 1.5}, "encoding": {}},
{"data": {"name": "b"}, "mark": {"type": "line", "color": "#3c3c3c", "strokeWidth": 1.5}, "encoding": {}},
{"data": {"name": "c"}, "mark": {"type": "line", "color": "#3c3c3c", "strokeWidth": 1.5}, "encoding": {}},
{"data": {"name": "d"}, "mark": {"type": "line", "color": "#3c3c3c", "strokeWidth": 1.5}, "encoding": {}},
{"data": {"name": "e"}, "mark": {"type": "line", "color": "#3c3c3c", "strokeWidth": 1.5}, "encoding": {}},
{"data": {"name": "f"}, "mark": {"type": "line", "color": "#3c3c3c", "strokeWidth": 1.5}, "encoding": {}},
{"data": {"name": "curvelabels"}, "mark": {"type": "text", "font": "Liberation Sans", "fontWeight": "bold", "fontSize": 26, "color": "#111111", "align": "center", "baseline": "middle"}, "encoding": {"text": {"field": "t"}}},
{"data": {"name": "peaklabels"}, "mark": {"type": "text", "font": "Liberation Sans", "fontWeight": "bold", "fontSize": 25, "color": "#111111", "align": "center", "baseline": "middle"}, "encoding": {"text": {"field": "t"}}}
]
}
